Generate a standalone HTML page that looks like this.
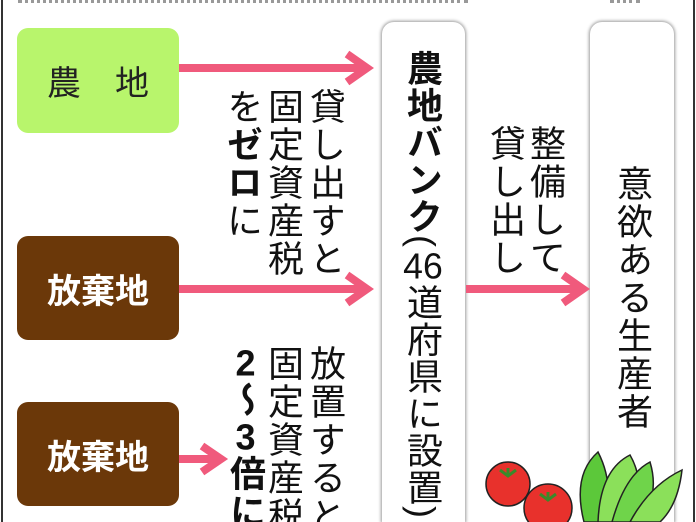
<!DOCTYPE html>
<html><head><meta charset="utf-8"><style>
html,body{margin:0;padding:0;width:696px;height:522px;overflow:hidden;}
body{background:#fff;font-family:"Liberation Sans","Noto Sans CJK JP",sans-serif;}
#w{position:relative;width:696px;height:522px;overflow:hidden;}
.box{position:absolute;border-radius:11px;display:flex;align-items:center;justify-content:center;font-size:34px;}
.v{position:absolute;writing-mode:vertical-rl;font-size:36px;line-height:1;color:#111;letter-spacing:2px;white-space:nowrap;}
.col{position:absolute;background:#fff;border-radius:12px 12px 0 0;box-shadow:0 0 3px 1px #999;}
.tcy{text-combine-upright:all;}
</style></head><body><div id="w">
<div style="position:absolute;left:1px;top:0;width:2px;height:522px;background:#333"></div>
<div style="position:absolute;left:693px;top:0;width:2px;height:522px;background:#333"></div>
<div style="position:absolute;left:18px;top:0;width:450px;height:4px;border-top:3px dotted #999"></div>
<div style="position:absolute;left:610px;top:0;width:30px;height:4px;border-top:3px dotted #999"></div>

<div class="box" style="left:17px;top:28px;width:162px;height:105px;background:#b8f56c;color:#222;">農　地</div>
<div class="box" style="left:17px;top:236px;width:162px;height:104px;background:#6b3809;color:#fff;font-weight:bold;">放棄地</div>
<div class="box" style="left:17px;top:402px;width:162px;height:104px;background:#6b3809;color:#fff;font-weight:bold;">放棄地</div>

<div class="col" style="left:382px;top:22px;width:83px;height:500px;"></div>
<div class="col" style="left:590px;top:22px;width:84px;height:500px;"></div>

<svg width="696" height="522" style="position:absolute;left:0;top:0">
<g stroke="#f05a7c" stroke-width="8" fill="none" stroke-linejoin="miter">
<line x1="179" y1="68" x2="366" y2="68"/><polyline points="347,54 367,68 347,82"/>
<line x1="179" y1="289" x2="366" y2="289"/><polyline points="347,275 367,289 347,303"/>
<line x1="466" y1="289" x2="582" y2="289"/><polyline points="563,275 583,289 563,303"/>
<line x1="179" y1="459" x2="220" y2="459"/><polyline points="202,446 221,459 202,472"/>
</g>
<g stroke="#222" stroke-width="1.5">
<path d="M584,522 Q572,475 598,452 Q615,485 604,522Z" fill="#5cc83a"/>
<path d="M598,522 Q600,470 630,455 Q650,490 622,522Z" fill="#8be05a"/>
<path d="M612,522 Q625,475 650,462 Q660,495 640,522Z" fill="#6fd44a"/>
<path d="M630,522 Q650,485 682,470 Q678,505 660,522Z" fill="#8be05a"/>
<circle cx="508" cy="484" r="22" fill="#e8312c"/>
<circle cx="548" cy="508" r="24" fill="#e8312c"/>
</g>
<path d="M500,470 l8,6 l8,-6 M508,476 l0,-8" stroke="#3a8a2a" stroke-width="3" fill="none"/>
<path d="M540,494 l8,6 l8,-6 M548,500 l0,-8" stroke="#3a8a2a" stroke-width="3" fill="none"/>
</svg>

<div class="v" style="left:307px;top:88px;">貸し出すと</div>
<div class="v" style="left:265px;top:88px;">固定資産税</div>
<div class="v" style="left:224px;top:88px;">を<b>ゼロ</b>に</div>

<div class="v" style="left:404px;top:50px;letter-spacing:1px;"><b>農地バンク</b>(<span class="tcy">46</span>道府県に設置)</div>

<div class="v" style="left:527px;top:125px;">整備して</div>
<div class="v" style="left:487px;top:125px;">貸し出し</div>

<div class="v" style="left:614px;top:165px;">意欲ある生産者</div>

<div class="v" style="left:307px;top:345px;">放置すると</div>
<div class="v" style="left:265px;top:345px;">固定資産税</div>
<div class="v" style="left:227px;top:345px;font-weight:bold;"><span class="tcy">2</span>～<span class="tcy">3</span>倍に</div>
</div></body></html>
